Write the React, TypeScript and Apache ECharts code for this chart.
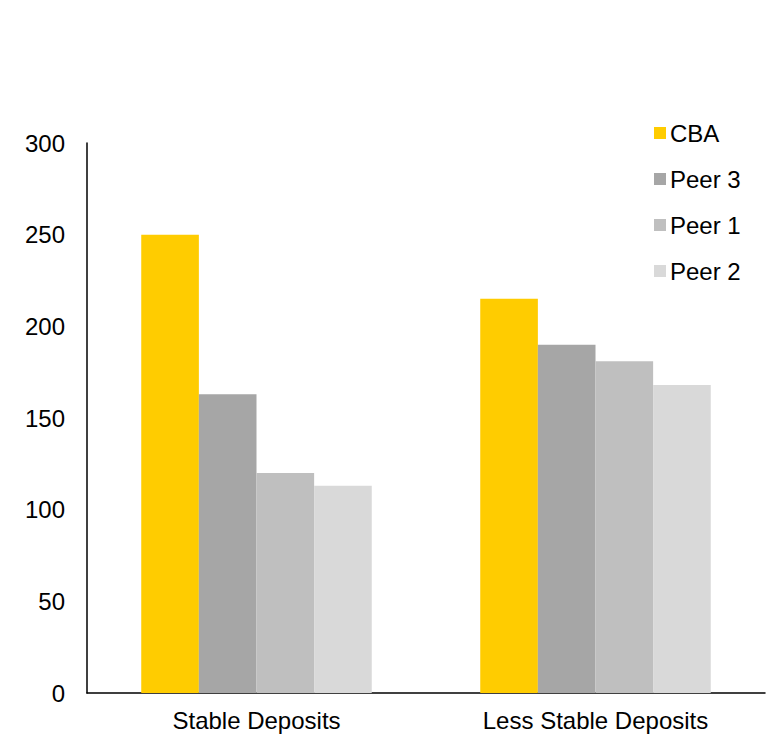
import React, { useEffect, useRef } from "react";
import * as echarts from "echarts";

const categories = ["Stable Deposits", "Less Stable Deposits"];
const seriesNames = ["CBA", "Peer 3", "Peer 1", "Peer 2"];
const cbaValues = [250, 215];
const peer3Values = [163, 190];
const peer1Values = [120, 181];
const peer2Values = [113, 168];
const colors = ["#FFCC00", "#A6A6A6", "#BFBFBF", "#D9D9D9"];
const yTicks = { min: 0, max: 300, interval: 50 };

export default function App() {
  const ref = useRef<HTMLDivElement>(null);
  useEffect(() => {
    if (!ref.current) return;
    const chart = echarts.init(ref.current, undefined, { renderer: "svg" });
    const allValues = [cbaValues, peer3Values, peer1Values, peer2Values];
    const font = "Arial, 'Liberation Sans', sans-serif";
    chart.setOption({
      animation: false,
      textStyle: { fontFamily: font },
      grid: { left: 87, right: 10, top: 143, bottom: 43, containLabel: false },
      legend: {
        orient: "vertical",
        left: 649,
        top: 116,
        itemWidth: 12,
        itemHeight: 12,
        itemGap: 22,
        icon: "rect",
        data: seriesNames,
        textStyle: { fontSize: 24, color: "#000", fontFamily: font, padding: [0, 0, 0, -1], lineHeight: 24 },
      },
      xAxis: {
        type: "category",
        data: categories,
        axisLine: { lineStyle: { color: "#000", width: 1.5 } },
        axisTick: { show: false },
        axisLabel: { fontSize: 24, color: "#000", margin: 15, fontFamily: font },
      },
      yAxis: {
        type: "value",
        min: yTicks.min,
        max: yTicks.max,
        interval: yTicks.interval,
        axisLine: { show: true, lineStyle: { color: "#000", width: 1.5 } },
        axisTick: { show: false },
        splitLine: { show: false },
        axisLabel: { fontSize: 24, color: "#000", margin: 22, fontFamily: font },
      },
      series: seriesNames.map((name, i) => ({
        name,
        type: "bar",
        data: allValues[i],
        itemStyle: { color: colors[i] },
        barGap: "0%",
        barCategoryGap: "32%",
      })),
    });
    return () => chart.dispose();
  }, []);
  return <div ref={ref} style={{ position: "absolute", left: 0, top: 0, width: 775, height: 736 }} />;
}
